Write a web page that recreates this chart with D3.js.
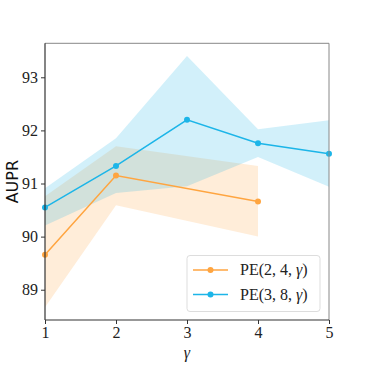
<!DOCTYPE html>
<html><head><meta charset="utf-8">
<script src="https://cdn.jsdelivr.net/npm/d3@7"></script>
<style>body{margin:0;background:#fff}svg{display:block}</style>
</head><body>
<script>
const gammaA = [1, 2, 4];
const meanA = [89.66, 91.15, 90.66];
const lowA = [88.67, 90.59, 90.0];
const highA = [90.76, 91.70, 91.33];

const gammaB = [1, 2, 3, 4, 5];
const meanB = [90.55, 91.33, 92.2, 91.76, 91.56];
const lowB = [90.21, 90.82, 90.95, 91.5, 90.94];
const highB = [90.91, 91.85, 93.4, 92.02, 92.19];

const xTicks = [1, 2, 3, 4, 5];
const yTicks = [89, 90, 91, 92, 93];
const labels = [["PE(2, 4, ", ")"], ["PE(3, 8, ", ")"]];

const W = 366, H = 366;
const L = 45, R = 329, T = 43.3, B = 320;
const colA = "#ffa540", colB = "#1cb5e8";
const svg = d3.select("body").append("svg").attr("width", W).attr("height", H);
const x = d3.scaleLinear().domain([1, 5]).range([L, R]);
const y = d3.scaleLinear().domain([88.43, 93.64]).range([B, T]);

function band(xs, lo, hi, color, op) {
  const d = xs.map((g, i) => ({g, lo: lo[i], hi: hi[i]}));
  svg.append("path").datum(d)
    .attr("d", d3.area().x(p => x(p.g)).y0(p => y(p.lo)).y1(p => y(p.hi)))
    .attr("fill", color).attr("fill-opacity", op).attr("stroke", "none");
}
band(gammaA, lowA, highA, colA, 0.2);
band(gammaB, lowB, highB, colB, 0.2);

function series(xs, ys, color) {
  const d = xs.map((g, i) => ({g, v: ys[i]}));
  svg.append("path").datum(d)
    .attr("d", d3.line().x(p => x(p.g)).y(p => y(p.v)))
    .attr("fill", "none").attr("stroke", color).attr("stroke-width", 1.5);
  svg.append("g").selectAll("circle").data(d).join("circle")
    .attr("cx", p => x(p.g)).attr("cy", p => y(p.v)).attr("r", 3).attr("fill", color);
}
series(gammaA, meanA, colA);
series(gammaB, meanB, colB);

svg.append("line").attr("x1", L).attr("x2", R).attr("y1", T).attr("y2", T).attr("stroke", "#888").attr("stroke-width", 1);
svg.append("line").attr("x1", R).attr("x2", R).attr("y1", T).attr("y2", B).attr("stroke", "#888").attr("stroke-width", 1);

const serif = "'Liberation Serif', 'DejaVu Serif', serif";
const xa = svg.append("g").attr("transform", `translate(0,${B})`)
  .call(d3.axisBottom(x).tickValues(xTicks).tickFormat(d3.format("d")).tickSize(4).tickSizeOuter(0));
const ya = svg.append("g").attr("transform", `translate(${L},0)`)
  .call(d3.axisLeft(y).tickValues(yTicks).tickFormat(d3.format("d")).tickSize(4).tickSizeOuter(0));
[xa, ya].forEach(a => {
  a.attr("font-family", null).attr("font-size", null);
  a.select(".domain").attr("stroke", "#333").attr("stroke-width", 1.2);
  a.selectAll(".tick line").attr("stroke", "#333");
  a.selectAll("text").style("font-family", serif).style("font-size", "16px").attr("fill", "#222");
});
xa.selectAll("text").attr("y", 7);
ya.selectAll("text").attr("x", -7);
xa.select(".domain").attr("d", `M${L},0H${R}`);
ya.select(".domain").attr("d", `M0,${T}V${B}`);

svg.append("text").attr("x", (L + R) / 2).attr("y", 358).attr("text-anchor", "middle")
  .style("font-family", serif).style("font-style", "italic").style("font-size", "16px").attr("fill", "#222").text("\u03b3");
svg.append("text").attr("transform", `translate(18,${(T + B) / 2}) rotate(-90)`).attr("text-anchor", "middle")
  .style("font-family", "'DejaVu Sans', sans-serif").style("font-size", "16px").attr("fill", "#111").text("AUPR");

// legend
const lg = svg.append("g");
lg.append("rect").attr("x", 187).attr("y", 255.5).attr("width", 133).attr("height", 56).attr("rx", 3)
  .attr("fill", "#fff").attr("fill-opacity", 0.85).attr("stroke", "#ddd");
[[labels[0], colA, 270], [labels[1], colB, 294.5]].forEach(([t, c, yy]) => {
  lg.append("line").attr("x1", 193).attr("x2", 228).attr("y1", yy).attr("y2", yy).attr("stroke", c).attr("stroke-width", 1.5);
  lg.append("circle").attr("cx", 210.5).attr("cy", yy).attr("r", 3).attr("fill", c);
  const tx = lg.append("text").attr("x", 240).attr("y", yy).attr("dy", "0.33em")
    .style("font-family", serif).style("font-size", "16px").attr("fill", "#222");
  tx.append("tspan").text(t[0]);
  tx.append("tspan").style("font-style", "italic").text("\u03b3");
  tx.append("tspan").text(t[1]);
});
</script>
</body></html>
